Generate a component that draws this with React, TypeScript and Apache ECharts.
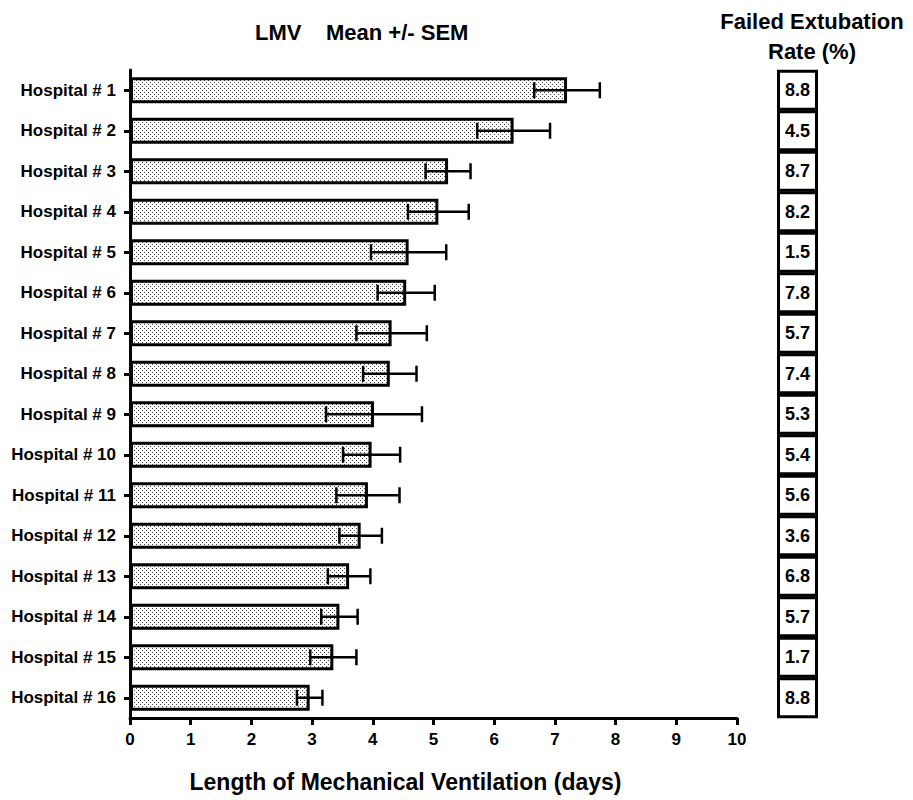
import React, { useEffect, useRef } from "react";
import * as echarts from "echarts";

const hospitals = [
  "Hospital # 1", "Hospital # 2", "Hospital # 3", "Hospital # 4",
  "Hospital # 5", "Hospital # 6", "Hospital # 7", "Hospital # 8",
  "Hospital # 9", "Hospital # 10", "Hospital # 11", "Hospital # 12",
  "Hospital # 13", "Hospital # 14", "Hospital # 15", "Hospital # 16",
];
const meanLMV = [7.2, 6.32, 5.24, 5.08, 4.59, 4.55, 4.31, 4.28, 4.02, 3.98, 3.92, 3.8, 3.61, 3.45, 3.35, 2.96];
const semLMV = [0.54, 0.6, 0.37, 0.5, 0.62, 0.47, 0.58, 0.44, 0.79, 0.47, 0.52, 0.35, 0.35, 0.3, 0.38, 0.21];
const failedRate = [8.8, 4.5, 8.7, 8.2, 1.5, 7.8, 5.7, 7.4, 5.3, 5.4, 5.6, 3.6, 6.8, 5.7, 1.7, 8.8];

const FONT = "'Liberation Sans', Arial, Helvetica, sans-serif";

function makePattern(): HTMLCanvasElement {
  const c = document.createElement("canvas");
  c.width = 4;
  c.height = 4;
  const ctx = c.getContext("2d")!;
  ctx.fillStyle = "#ffffff";
  ctx.fillRect(0, 0, 4, 4);
  ctx.fillStyle = "#444444";
  ctx.fillRect(0, 0, 1, 1);
  ctx.fillRect(2, 2, 1, 1);
  return c;
}

export default function App() {
  const ref = useRef<HTMLDivElement>(null);

  useEffect(() => {
    if (!ref.current) return;
    const chart = echarts.init(ref.current, null, { renderer: "svg" });
    const pattern = makePattern();

    const option: any = {
      animation: false,
      backgroundColor: "#ffffff",
      title: [
        {
          text: "LMV",
          left: 250,
          top: 16,
          textStyle: { fontFamily: FONT, fontWeight: "bold", fontSize: 22, color: "#000" },
        },
        {
          text: "Mean +/- SEM",
          left: 321,
          top: 16,
          textStyle: { fontFamily: FONT, fontWeight: "bold", fontSize: 22, color: "#000" },
        },
      ],
      graphic: [
        {
          type: "text",
          x: 812,
          y: 6,
          style: {
            text: "Failed Extubation\nRate (%)",
            align: "center",
            verticalAlign: "top",
            fontFamily: FONT,
            fontWeight: "bold",
            fontSize: 22,
            lineHeight: 30,
            fill: "#000",
          },
        },
      ],
      grid: [
        { left: 130, width: 607, top: 70, height: 648, containLabel: false },
        { left: 777, width: 41, top: 70, height: 648, containLabel: false },
      ],
      xAxis: [
        {
          gridIndex: 0,
          type: "value",
          min: 0,
          max: 10,
          interval: 1,
          splitLine: { show: false },
          axisLine: { show: true, lineStyle: { color: "#000", width: 3 } },
          axisTick: { show: true, inside: false, length: 7, lineStyle: { color: "#000", width: 3 } },
          axisLabel: {
            show: true,
            margin: 13,
            color: "#000",
            fontFamily: FONT,
            fontWeight: "bold",
            fontSize: 17,
          },
          name: "Length of Mechanical Ventilation (days)",
          nameLocation: "middle",
          nameGap: 52,
          nameTextStyle: {
            color: "#000",
            fontFamily: FONT,
            fontWeight: "bold",
            fontSize: 23,
            padding: [0, 56, 0, 0],
          },
        },
        { gridIndex: 1, type: "value", min: 0, max: 1, show: false },
      ],
      yAxis: [
        {
          gridIndex: 0,
          type: "category",
          data: hospitals,
          inverse: true,
          axisLine: { show: true, lineStyle: { color: "#000", width: 3 } },
          axisTick: { show: true, alignWithLabel: true, length: 6, lineStyle: { color: "#000", width: 3 } },
          axisLabel: {
            margin: 14,
            color: "#000",
            fontFamily: FONT,
            fontWeight: "bold",
            fontSize: 17,
          },
          splitLine: { show: false },
        },
        { gridIndex: 1, type: "category", data: hospitals, inverse: true, show: false },
      ],
      series: [
        {
          type: "bar",
          xAxisIndex: 0,
          yAxisIndex: 0,
          data: meanLMV,
          barWidth: 26,
          itemStyle: {
            color: { image: pattern, repeat: "repeat" },
            borderColor: "#000",
            borderWidth: 3,
          },
          z: 2,
        },
        {
          type: "custom",
          xAxisIndex: 0,
          yAxisIndex: 0,
          z: 3,
          data: hospitals.map((_, i) => [i, meanLMV[i], semLMV[i]]),
          encode: { x: 1, y: 0 },
          renderItem: (params: any, api: any) => {
            const idx = api.value(0);
            const m = api.value(1);
            const s = api.value(2);
            const lo = api.coord([m - s, idx]);
            const hi = api.coord([m + s, idx]);
            const h = 8;
            const st = { stroke: "#000", lineWidth: 2.5 };
            return {
              type: "group",
              children: [
                { type: "line", shape: { x1: lo[0], y1: lo[1], x2: hi[0], y2: hi[1] }, style: st },
                { type: "line", shape: { x1: lo[0], y1: lo[1] - h, x2: lo[0], y2: lo[1] + h }, style: st },
                { type: "line", shape: { x1: hi[0], y1: hi[1] - h, x2: hi[0], y2: hi[1] + h }, style: st },
              ],
            };
          },
        },
        {
          type: "scatter",
          xAxisIndex: 1,
          yAxisIndex: 1,
          data: hospitals.map((_, i) => [0.5, i]),
          symbol: "rect",
          symbolSize: [38, 38],
          itemStyle: { color: "#fff", borderColor: "#000", borderWidth: 3, opacity: 1 },
          label: {
            show: true,
            position: "inside",
            formatter: (p: any) => failedRate[p.dataIndex].toFixed(1),
            color: "#000",
            fontFamily: FONT,
            fontWeight: "bold",
            fontSize: 18,
          },
        },
      ],
    };

    chart.setOption(option);
    return () => chart.dispose();
  }, []);

  return (
    <div
      ref={ref}
      style={{ position: "fixed", left: 0, top: 0, width: 913, height: 800, background: "#fff" }}
    />
  );
}
